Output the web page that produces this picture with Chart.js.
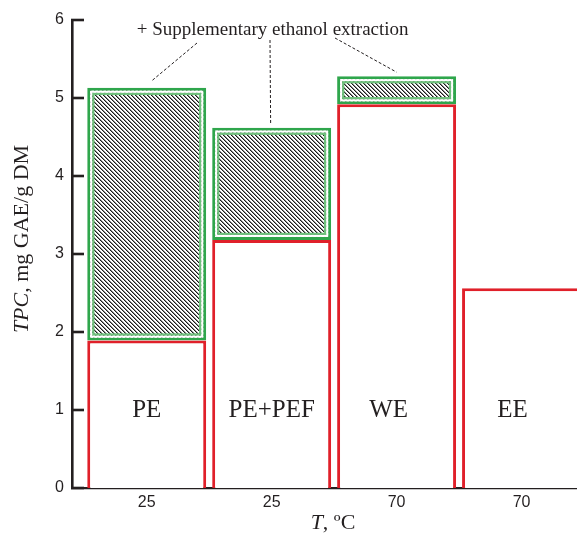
<!DOCTYPE html>
<html>
<head>
<meta charset="utf-8">
<script src="https://cdn.jsdelivr.net/npm/chart.js@4.4.1/dist/chart.umd.min.js"></script>
<style>
  html, body { margin: 0; padding: 0; background: #ffffff; }
  #wrap { width: 577px; height: 534px; }
</style>
</head>
<body>
<div id="wrap"><canvas id="c" width="577" height="534"></canvas></div>
<script>
// Extraction methods and their temperatures
const methods = ['PE', 'PE+PEF', 'WE', 'EE'];
const temperatures = ['25', '25', '70', '70'];
// Total phenolic content, mg GAE/g DM
const tpcBase = [1.89, 3.18, 4.92, 2.56];          // primary extraction
const tpcWithEthanol = [5.13, 4.62, 5.28, null];   // after supplementary ethanol extraction
const yTickValues = [0, 1, 2, 3, 4, 5, 6];
const noteText = '+ Supplementary ethanol extraction';

const RED = '#e0202a';
const GREEN = '#2fa64c';
const LIGHT_GREEN = '#6fc07c';
const INK = '#231f20';
const SERIF = '"Liberation Serif", "Times New Roman", serif';
const SANS = '"Liberation Sans", Arial, sans-serif';

// Diagonal hatch fill for the ethanol increment (pixel-aligned "\" lines)
function makeHatch() {
  const s = 4;
  const tile = document.createElement('canvas');
  tile.width = s; tile.height = s;
  const g = tile.getContext('2d');
  const img = g.createImageData(s, s);
  for (let y = 0; y < s; y++) {
    for (let x = 0; x < s; x++) {
      const d = ((x - y) % s + s) % s;
      const v = d === 0 ? 25 : (d === 1 ? 140 : 255);
      const k = (y * s + x) * 4;
      img.data[k] = v; img.data[k + 1] = v; img.data[k + 2] = v; img.data[k + 3] = 255;
    }
  }
  g.putImageData(img, 0, 0);
  return g.createPattern(tile, 'repeat');
}
const hatch = makeHatch();

const baseData = methods.map((m, i) => ({ x: i, y: tpcBase[i] }));
const ethanolData = [];
methods.forEach((m, i) => {
  if (tpcWithEthanol[i] != null) ethanolData.push({ x: i, y: [tpcBase[i], tpcWithEthanol[i]] });
});

// horizontal nudge of the in-bar method names
const nameShift = [0, 0, -8, -9];

const decorations = {
  id: 'decorations',
  afterDatasetsDraw(chart) {
    const ctx = chart.ctx;
    const area = chart.chartArea;
    const ys = chart.scales.y;
    const redBars = chart.getDatasetMeta(0).data;
    const greenBars = chart.getDatasetMeta(1).data;

    ctx.save();
    // inner frame of the hatched blocks
    greenBars.forEach(el => {
      const p = el.getProps(['x', 'y', 'base', 'width'], true);
      const l = p.x - p.width / 2, r = p.x + p.width / 2;
      const t = Math.min(p.y, p.base), b = Math.max(p.y, p.base);
      ctx.lineWidth = 2;
      ctx.strokeStyle = '#ffffff';
      ctx.strokeRect(l + 4, t + 4, r - l - 8, b - t - 8);
      ctx.lineWidth = 2.2;
      ctx.strokeStyle = LIGHT_GREEN;
      ctx.strokeRect(l + 6.1, t + 6.1, r - l - 12.2, b - t - 12.2);
    });

    // method names inside the bars
    ctx.fillStyle = INK;
    ctx.font = '25px ' + SERIF;
    ctx.textAlign = 'center';
    ctx.textBaseline = 'middle';
    const labelY = ys.getPixelForValue(1);
    redBars.forEach((el, i) => {
      ctx.fillText(methods[i], el.x + nameShift[i], labelY);
    });

    // note and leader lines
    ctx.font = '19px ' + SERIF;
    ctx.textBaseline = 'alphabetic';
    ctx.fillText(noteText, greenBars[1].x + 1, 35);
    ctx.setLineDash([3, 2]);
    ctx.lineWidth = 1;
    ctx.strokeStyle = INK;
    const leaders = [
      [197, 43, greenBars[0].x + 5, greenBars[0].y - 7],
      [270, 40, greenBars[1].x - 1, greenBars[1].y - 3],
      [335, 38, greenBars[2].x, greenBars[2].y - 4]
    ];
    leaders.forEach(([x1, y1, x2, y2]) => {
      ctx.beginPath();
      ctx.moveTo(x1, y1);
      ctx.lineTo(x2, y2);
      ctx.stroke();
    });
    ctx.setLineDash([]);

    // inward tick marks on the value axis
    ctx.lineWidth = 2.6;
    ctx.strokeStyle = INK;
    yTickValues.forEach(v => {
      const py = ys.getPixelForValue(v);
      ctx.beginPath();
      ctx.moveTo(area.left - 1, py);
      ctx.lineTo(area.left + 12, py);
      ctx.stroke();
    });
    ctx.restore();
  },
  afterDraw(chart) {
    const ctx = chart.ctx;
    ctx.save();
    ctx.fillStyle = INK;
    ctx.textBaseline = 'alphabetic';
    ctx.textAlign = 'left';

    // value axis title: italic symbol + units
    const yParts = [['italic 22px ' + SERIF, 'TPC'], ['22px ' + SERIF, ', mg GAE/g DM']];
    let total = 0;
    yParts.forEach(([f, s]) => { ctx.font = f; total += ctx.measureText(s).width; });
    ctx.translate(27.5, 239);
    ctx.rotate(-Math.PI / 2);
    let cx = -total / 2;
    yParts.forEach(([f, s]) => { ctx.font = f; ctx.fillText(s, cx, 0); cx += ctx.measureText(s).width; });
    ctx.setTransform(1, 0, 0, 1, 0, 0);

    // temperature axis title
    const xParts = [['italic 22px ' + SERIF, 'T'], ['22px ' + SERIF, ', \u00BAC']];
    total = 0;
    xParts.forEach(([f, s]) => { ctx.font = f; total += ctx.measureText(s).width; });
    cx = 333 - total / 2;
    xParts.forEach(([f, s]) => { ctx.font = f; ctx.fillText(s, cx, 529); cx += ctx.measureText(s).width; });
    ctx.restore();
  }
};

new Chart(document.getElementById('c'), {
  type: 'bar',
  data: {
    datasets: [
      {
        label: 'Primary extraction',
        data: baseData,
        backgroundColor: '#ffffff',
        borderColor: RED,
        borderWidth: 3,
        borderSkipped: 'start',
        grouped: false,
        categoryPercentage: 1,
        barPercentage: 0.952,
        order: 1
      },
      {
        label: 'Supplementary ethanol extraction',
        data: ethanolData,
        backgroundColor: hatch,
        borderColor: GREEN,
        borderWidth: 3,
        borderSkipped: false,
        grouped: false,
        categoryPercentage: 1,
        barPercentage: 0.952,
        order: 2
      }
    ]
  },
  options: {
    responsive: false,
    devicePixelRatio: 1,
    animation: false,
    layout: { padding: { top: 20, right: 0, left: 0, bottom: 0 } },
    plugins: { legend: { display: false }, tooltip: { enabled: false } },
    scales: {
      x: {
        type: 'linear',
        min: -0.598,
        max: 3.444,
        offset: false,
        z: 1,
        afterFit(scale) { scale.height = 46; },
        afterBuildTicks(scale) { scale.ticks = temperatures.map((t, i) => ({ value: i })); },
        grid: { display: false, offset: false },
        border: { display: true, color: INK, width: 2.2 },
        ticks: {
          color: INK,
          font: { family: SANS, size: 16 },
          padding: -3,
          maxRotation: 0,
          autoSkip: false,
          callback: (v) => temperatures[v]
        }
      },
      y: {
        min: 0,
        max: 6,
        afterFit(scale) { scale.width = 72; },
        afterBuildTicks(scale) { scale.ticks = yTickValues.map(v => ({ value: v })); },
        grid: { display: false },
        border: { display: true, color: INK, width: 2.6 },
        ticks: {
          color: INK,
          font: { family: SANS, size: 16 },
          padding: 0
        }
      }
    }
  },
  plugins: [decorations]
});
</script>
</body>
</html>
